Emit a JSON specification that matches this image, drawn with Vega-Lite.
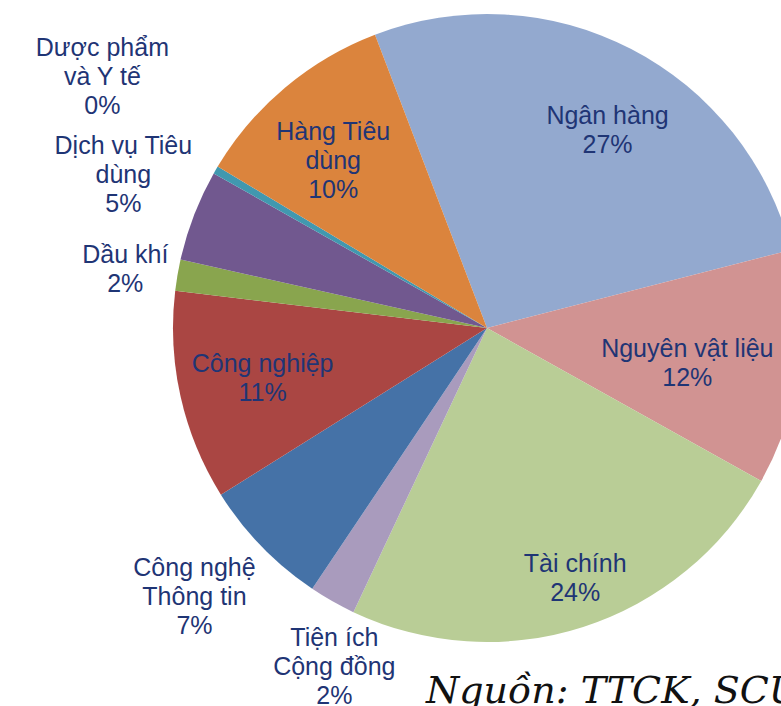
{
  "$schema": "https://vega.github.io/schema/vega-lite/v6.json",
  "autosize": "none",
  "width": 588,
  "height": 656,
  "padding": {"left": 193, "top": 0, "right": 0, "bottom": 50},
  "background": "white",
  "view": {"stroke": null},
  "title": {
    "text": "Nguồn: TTCK, SCUS",
    "orient": "bottom",
    "anchor": "start",
    "frame": "group",
    "dx": 233,
    "offset": -56,
    "font": "DejaVu Serif",
    "fontStyle": "italic",
    "fontWeight": "normal",
    "fontSize": 38,
    "color": "#111111"
  },
  "config": {
    "text": {"font": "Liberation Sans", "fontSize": 25, "lineHeight": 29, "lineBreak": "\n", "align": "center", "baseline": "middle", "color": "#1F3575"}
  },
  "data": {
    "values": [
      {"idx": 1, "name": "Ngân hàng", "value": 26.8, "label": "Ngân hàng\n27%"},
      {"idx": 2, "name": "Nguyên vật liệu", "value": 12.1, "label": "Nguyên vật liệu\n12%"},
      {"idx": 3, "name": "Tài chính", "value": 23.9, "label": "Tài chính\n24%"},
      {"idx": 4, "name": "Tiện ích Cộng đồng", "value": 2.4, "label": "Tiện ích\nCộng đồng\n2%"},
      {"idx": 5, "name": "Công nghệ Thông tin", "value": 6.7, "label": "Công nghệ\nThông tin\n7%"},
      {"idx": 6, "name": "Công nghiệp", "value": 10.8, "label": "Công nghiệp\n11%"},
      {"idx": 7, "name": "Dầu khí", "value": 1.6, "label": "Dầu khí\n2%"},
      {"idx": 8, "name": "Dịch vụ Tiêu dùng", "value": 4.7, "label": "Dịch vụ Tiêu\ndùng\n5%"},
      {"idx": 9, "name": "Dược phẩm và Y tế", "value": 0.4, "label": "Dược phẩm\nvà Y tế\n0%"},
      {"idx": 10, "name": "Hàng Tiêu dùng", "value": 10.6, "label": "Hàng Tiêu\ndùng\n10%"}
    ]
  },
  "encoding": {
    "theta": {"field": "value", "type": "quantitative", "stack": true, "scale": {"range": [-0.3648, 5.9184]}},
    "order": {"field": "idx", "type": "quantitative"},
    "color": {
      "field": "name",
      "type": "nominal",
      "legend": null,
      "scale": {
        "domain": ["Ngân hàng", "Nguyên vật liệu", "Tài chính", "Tiện ích Cộng đồng", "Công nghệ Thông tin", "Công nghiệp", "Dầu khí", "Dịch vụ Tiêu dùng", "Dược phẩm và Y tế", "Hàng Tiêu dùng"],
        "range": ["#93A9CF", "#D19392", "#B9CD96", "#A99BBD", "#4572A7", "#AA4643", "#89A54E", "#71588F", "#4198AF", "#DB843D"]
      }
    }
  },
  "layer": [
    {"mark": {"type": "arc", "outerRadius": 314}},
    {
      "mark": {"type": "text", "radius": 232, "dx": 14, "dy": -5.5},
      "encoding": {"color": {"value": "#1F3575"}, "text": {"condition": {"test": "datum.idx == 1", "field": "label"}, "value": ""}}
    },
    {
      "mark": {"type": "text", "radius": 232, "dx": 2, "dy": -14.5},
      "encoding": {"color": {"value": "#1F3575"}, "text": {"condition": {"test": "datum.idx == 6", "field": "label"}, "value": ""}}
    },
    {
      "mark": {"type": "text", "radius": 230, "dx": -6, "dy": -20},
      "encoding": {"color": {"value": "#1F3575"}, "text": {"condition": {"test": "datum.idx == 10", "field": "label"}, "value": ""}}
    },
    {
      "mark": {"type": "text", "radius": 204, "dx": -2, "dy": -5.5},
      "encoding": {"color": {"value": "#1F3575"}, "text": {"condition": {"test": "datum.idx == 2", "field": "label"}, "value": ""}}
    },
    {
      "mark": {"type": "text", "radius": 265, "dx": 7, "dy": -16.5},
      "encoding": {"color": {"value": "#1F3575"}, "text": {"condition": {"test": "datum.idx == 3", "field": "label"}, "value": ""}}
    },
    {
      "mark": {"type": "text", "radius": 371, "dx": 30, "dy": -13},
      "encoding": {"color": {"value": "#1F3575"}, "text": {"condition": {"test": "datum.idx == 4", "field": "label"}, "value": ""}}
    },
    {
      "mark": {"type": "text", "radius": 395, "dx": -9, "dy": -35},
      "encoding": {"color": {"value": "#1F3575"}, "text": {"condition": {"test": "datum.idx == 5", "field": "label"}, "value": ""}}
    },
    {
      "mark": {"type": "text", "radius": 395, "dx": 5, "dy": -40},
      "encoding": {"color": {"value": "#1F3575"}, "text": {"condition": {"test": "datum.idx == 8", "field": "label"}, "value": ""}}
    },
    {
      "mark": {"type": "text", "radius": 367, "dx": 0, "dy": -11.5},
      "encoding": {"color": {"value": "#1F3575"}, "text": {"condition": {"test": "datum.idx == 7", "field": "label"}, "value": ""}}
    },
    {
      "mark": {"type": "text", "radius": 459, "dx": 12, "dy": -49},
      "encoding": {"color": {"value": "#1F3575"}, "text": {"condition": {"test": "datum.idx == 9", "field": "label"}, "value": ""}}
    }
  ]
}
